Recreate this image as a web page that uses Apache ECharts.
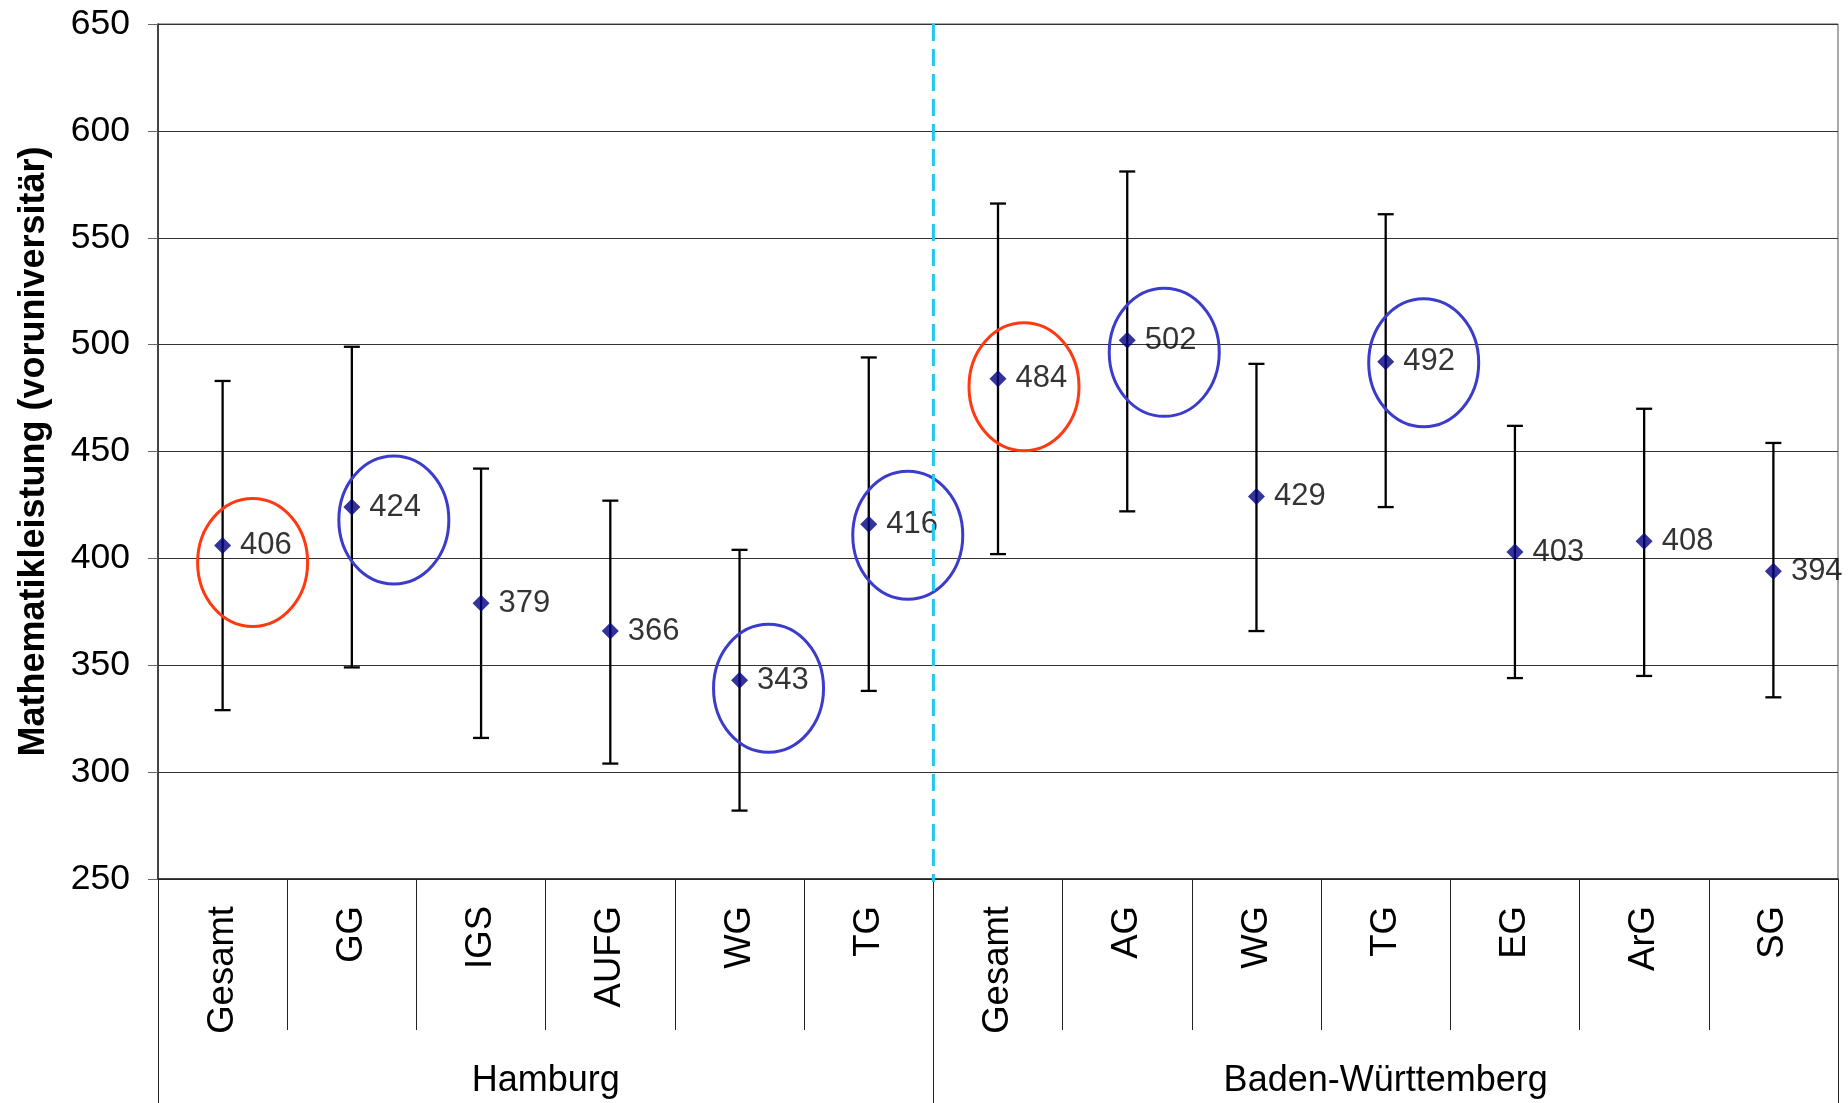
<!DOCTYPE html>
<html>
<head>
<meta charset="utf-8">
<script src="https://cdn.jsdelivr.net/npm/echarts@6/dist/echarts.min.js"></script>
<style>
html,body{margin:0;padding:0;background:#fff;}
#chart{width:1848px;height:1103px;}
</style>
</head>
<body>
<div id="chart"></div>
<script>
// ---- data ----
const categories = ['Gesamt','GG','IGS','AUFG','WG','TG','Gesamt','AG','WG','TG','EG','ArG','SG'];
const groupNames = ['Hamburg','Baden-Württemberg'];
const groupSizes = [6, 7];
const means = [406, 424, 379, 366, 343, 416, 484, 502, 429, 492, 403, 408, 394];
const upper = [483, 499, 442, 427, 404, 494, 566, 581, 491, 561, 462, 470, 454];
const lower = [329, 349, 316, 304, 282, 338, 402, 422, 366, 424, 344, 345, 335];
const yTicks = [250, 650, 50]; // min, max, step
const yTitle = 'Mathematikleistung (voruniversitär)';
// circled points: category index and kind (0 = overall / red, 1 = blue)
const circledIdx = [0, 1, 4, 5, 6, 7, 9];
const circledKind = [0, 1, 1, 1, 0, 1, 1];

// ---- styling (not data) ----
const ellipseOffsetPx = [[30,17],[42,13],[29,8],[39,11],[26,8],[37,12],[38,1]];
const ellipseColors = ['#ff3a12', '#3b3bcc'];
const FONT = "'Liberation Sans', Arial, sans-serif";

// derived
const boundaries = [0];
groupSizes.forEach(n => boundaries.push(boundaries[boundaries.length - 1] + n));
const groupCenters = groupSizes.map((n, i) => boundaries[i] + n / 2);
const innerBoundaries = boundaries.slice(1, -1);

const chart = echarts.init(document.getElementById('chart'));
chart.setOption({
  animation: false,
  backgroundColor: '#fff',
  grid: { left: 158, top: 24, right: 10, bottom: 224, show: true, borderColor: '#555', borderWidth: 1, backgroundColor: 'transparent' },
  xAxis: [
    {
      type: 'category', data: categories, position: 'bottom',
      axisLine: { show: true, lineStyle: { color: '#222', width: 1.5 } },
      axisTick: { show: true, interval: 0, length: 151, lineStyle: { color: '#222', width: 1 } },
      axisLabel: { interval: 0, rotate: 90, margin: 27, fontSize: 36.5, color: '#000', fontFamily: FONT },
      splitLine: { show: false }
    },
    {
      type: 'value', min: boundaries[0], max: boundaries[boundaries.length - 1], position: 'bottom',
      axisLine: { show: false },
      axisTick: { show: true, customValues: boundaries, length: 224, lineStyle: { color: '#222', width: 1 } },
      axisLabel: {
        show: true, customValues: groupCenters, margin: 184, fontSize: 36, color: '#000', fontFamily: FONT,
        formatter: v => { const k = groupCenters.indexOf(v); return k >= 0 ? groupNames[k] : ''; }
      },
      splitLine: { show: false }
    }
  ],
  yAxis: {
    type: 'value', min: yTicks[0], max: yTicks[1], interval: yTicks[2],
    name: yTitle, nameLocation: 'middle', nameGap: 106, nameRotate: 90,
    nameTextStyle: { fontSize: 36, fontWeight: 'bold', color: '#000', fontFamily: FONT },
    axisLine: { show: true, lineStyle: { color: '#222', width: 1.5 } },
    axisTick: { show: true, length: 10, lineStyle: { color: '#666' } },
    axisLabel: { fontSize: 35.5, color: '#000', margin: 28, fontFamily: FONT },
    splitLine: { show: true, lineStyle: { color: '#333', width: 1 } }
  },
  series: [
    {
      type: 'custom', name: 'errorbars', xAxisIndex: 1, z: 3,
      data: means.map((m, i) => [i + 0.5, lower[i], upper[i]]),
      renderItem: (params, api) => {
        const x = api.value(0);
        const pHi = api.coord([x, api.value(2)]);
        const pLo = api.coord([x, api.value(1)]);
        const cw = 8;
        const st = { stroke: '#000', lineWidth: 2.3 };
        return { type: 'group', children: [
          { type: 'line', shape: { x1: pHi[0], y1: pHi[1], x2: pLo[0], y2: pLo[1] }, style: st },
          { type: 'line', shape: { x1: pHi[0] - cw, y1: pHi[1], x2: pHi[0] + cw, y2: pHi[1] }, style: st },
          { type: 'line', shape: { x1: pLo[0] - cw, y1: pLo[1], x2: pLo[0] + cw, y2: pLo[1] }, style: st }
        ]};
      }
    },
    {
      type: 'scatter', name: 'means', xAxisIndex: 1, z: 4,
      data: means.map((m, i) => [i + 0.5, m]),
      symbol: 'diamond', symbolSize: 17,
      itemStyle: { color: '#000080' },
      label: { show: true, position: 'right', distance: 9, fontSize: 31, color: '#000', fontFamily: FONT,
        formatter: p => String(p.value[1]) }
    },
    {
      type: 'custom', name: 'ellipses', xAxisIndex: 1, z: 6,
      data: circledIdx.map((ci, k) => [ci + 0.5, means[ci], circledKind[k], k]),
      renderItem: (params, api) => {
        const p = api.coord([api.value(0), api.value(1)]);
        const k = api.value(3);
        const off = ellipseOffsetPx[k];
        return { type: 'ellipse', shape: { cx: p[0] + off[0], cy: p[1] + off[1], rx: 55, ry: 64 },
          style: { fill: 'none', stroke: ellipseColors[api.value(2)], lineWidth: 3 } };
      }
    },
    {
      type: 'custom', name: 'divider', xAxisIndex: 1, z: 8,
      data: innerBoundaries.map(b => [b]),
      renderItem: (params, api) => {
        const a = api.coord([api.value(0), yTicks[1]]);
        const b = api.coord([api.value(0), yTicks[0]]);
        return { type: 'line', shape: { x1: a[0], y1: a[1], x2: b[0], y2: b[1] + 3 },
          style: { stroke: '#1ec8f0', lineWidth: 3, lineDash: [17, 8] } };
      }
    }
  ]
});
</script>
</body>
</html>
